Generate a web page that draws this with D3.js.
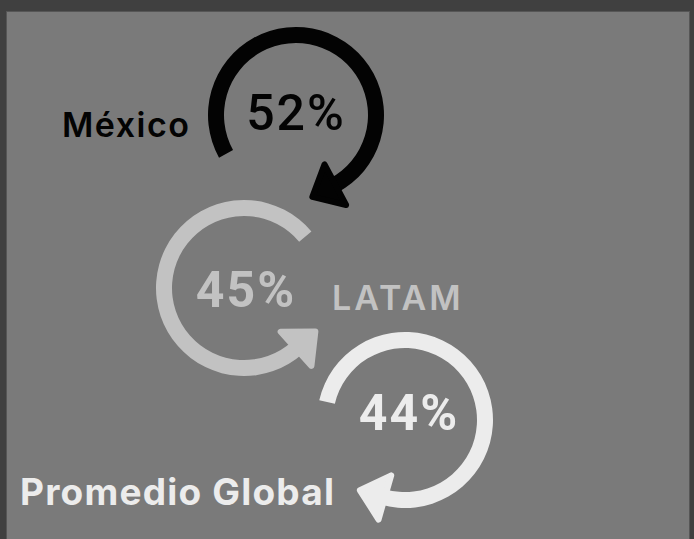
<!DOCTYPE html>
<html>
<head>
<meta charset="utf-8">
<script src="https://cdn.jsdelivr.net/npm/d3@7"></script>
<style>
  html, body { margin: 0; padding: 0; background: #404040; }
  svg { display: block; }
</style>
</head>
<body>
<div class="main"></div>
<script>
// Datos: etiquetas y porcentajes
var labels  = ["México", "LATAM", "Promedio Global"];
var values  = [52, 45, 44];

// Dimensiones
var width  = 694,
    height = 539;

// Posicion de cada flecha circular (centro, angulos en grados desde las 12, sentido)
var layout = [
    { cx: 296, cy: 115, start: -119, end: 152, dir:  1, color: "#030303",
      lx: 62,  ly: 137, ls: 1.5, px: 296, py: 130, pw: 500 },
    { cx: 244, cy: 288, start: 50,   end: 138, dir: -1, color: "#c2c2c2",
      lx: 332, ly: 310, ls: 3,   px: 246, py: 307, pw: 700 },
    { cx: 405, cy: 420, start: -77,  end: 196, dir:  1, color: "#ececec",
      lx: 20,  ly: 505, ls: 1.2, px: 409, py: 430, pw: 700 }
];

var radius = 80,
    thick  = 16;

var svg = d3.select('.main')
            .append('svg')
                .attr('width', width)
                .attr('height', height);

// Panel gris
svg.append('rect')
    .attr('x', 6.5).attr('y', 11.5)
    .attr('width', 683).attr('height', 540)
    .attr('fill', '#7a7a7a')
    .attr('stroke', '#565656');

var rad = d3.scaleLinear().domain([0, 180]).range([0, Math.PI]);

var arc = d3.arc()
    .innerRadius(radius - thick / 2)
    .outerRadius(radius + thick / 2);

var g = svg.selectAll('g.flecha')
    .data(values)
    .enter().append('g')
        .attr('class', 'flecha')
        .attr('transform', (d, i) => 'translate(' + layout[i].cx + ',' + layout[i].cy + ')');

// Anillo
g.append('path')
    .attr('d', (d, i) => {
        var L = layout[i];
        var a0 = L.dir > 0 ? L.start : L.end - 360,
            a1 = L.dir > 0 ? L.end : L.start;
        return arc({ startAngle: rad(a0), endAngle: rad(a1) });
    })
    .attr('fill', (d, i) => layout[i].color);

// Punta de flecha
g.append('path')
    .attr('d', (d, i) => {
        var L = layout[i], t = rad(L.end);
        var mx = radius * Math.sin(t), my = -radius * Math.cos(t);
        var tx = L.dir * Math.cos(t), ty = L.dir * Math.sin(t);
        var nx = Math.sin(t), ny = -Math.cos(t);
        var w = 23, len = 24, back = 2;
        var bx = mx - tx * back, by = my - ty * back;
        return 'M' + (bx + nx * w) + ',' + (by + ny * w) +
               'L' + (bx - nx * w) + ',' + (by - ny * w) +
               'L' + (mx + tx * len) + ',' + (my + ty * len) + 'Z';
    })
    .attr('fill', (d, i) => layout[i].color)
    .attr('stroke', (d, i) => layout[i].color)
    .attr('stroke-width', 6)
    .attr('stroke-linejoin', 'round');

// Porcentajes
svg.selectAll('text.pct')
    .data(values)
    .enter().append('text')
        .attr('class', 'pct')
        .attr('x', (d, i) => layout[i].px)
        .attr('y', (d, i) => layout[i].py)
        .attr('text-anchor', 'middle')
        .attr('font-family', 'Roboto, sans-serif')
        .attr('font-weight', (d, i) => layout[i].pw)
        .attr('font-size', 50)
        .attr('letter-spacing', 2)
        .attr('fill', (d, i) => layout[i].color)
        .text(d => d + '%');

// Etiquetas
svg.selectAll('text.lbl')
    .data(labels)
    .enter().append('text')
        .attr('class', 'lbl')
        .attr('x', (d, i) => layout[i].lx)
        .attr('y', (d, i) => layout[i].ly)
        .attr('font-family', 'Inter, sans-serif')
        .attr('font-weight', (d, i) => i == 2 ? 700 : 600)
        .attr('font-size', (d, i) => i == 2 ? 37 : 34)
        .attr('letter-spacing', (d, i) => layout[i].ls)
        .attr('fill', (d, i) => layout[i].color)
        .text(d => d);
</script>
</body>
</html>
